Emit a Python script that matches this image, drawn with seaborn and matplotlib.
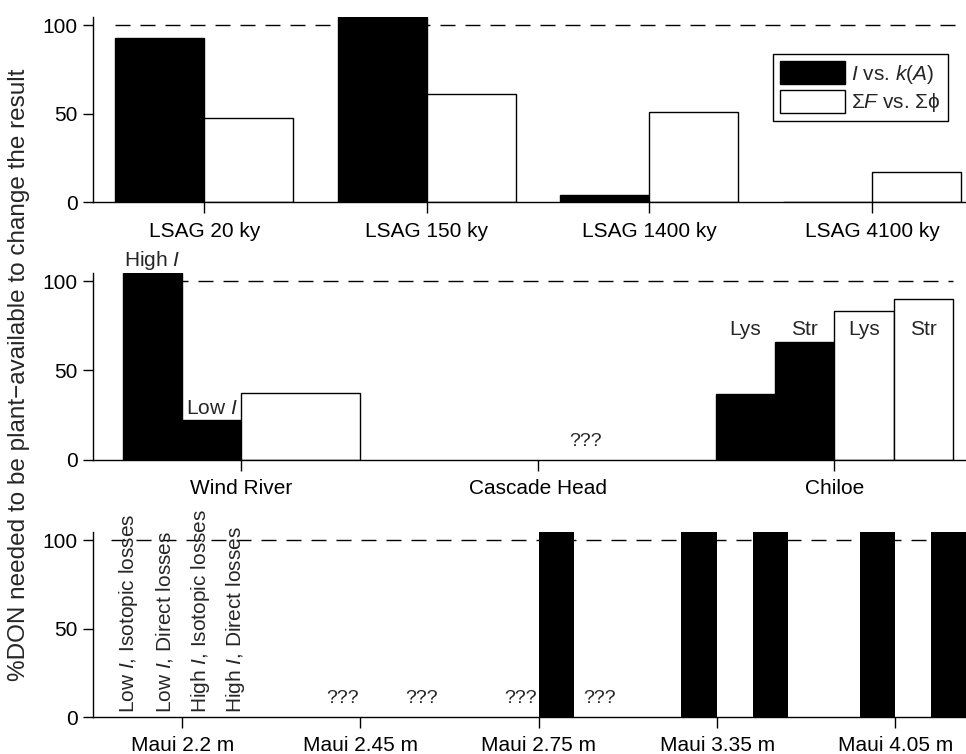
import numpy as np
import pandas as pd
import matplotlib
matplotlib.use("Agg")
import matplotlib.pyplot as plt
from matplotlib.font_manager import FontProperties
import seaborn as sns

sns.set_style("ticks")
plt.rcParams["font.family"] = ["Liberation Sans", "DejaVu Sans"]
plt.rcParams["mathtext.fontset"] = "custom"
plt.rcParams["mathtext.rm"] = "Liberation Sans"
plt.rcParams["mathtext.it"] = "Liberation Sans:italic"
plt.rcParams["axes.unicode_minus"] = True

# --- data (values above the axis top are clipped) ---
lsag_sites = ["LSAG 20 ky", "LSAG 150 ky", "LSAG 1400 ky", "LSAG 4100 ky"]
lsag_ik = [93, 104.5, 3.8, 0]
lsag_sf = [47.5, 61.3, 50.9, 17]
methods = [r"$\mathit{I}$ vs. $\mathit{k(A)}$", r"Σ$\mathit{F}$ vs. Σϕ"]

mid_sites = ["Wind River", "Cascade Head", "Chiloe"]
# black series split in two sub bars (High/Low I at Wind River, Lys/Str at Chiloe)
mid_slots = ["k1", "k2", "w1", "w2"]
mid_site_col = ["Wind River", "Wind River", "Chiloe", "Chiloe", "Chiloe", "Chiloe"]
mid_slot_col = ["k1", "k2", "k1", "k2", "w1", "w2"]
mid_vals = [104.5, 22.4, 36.6, 66, 83.3, 89.7]
mid_sub_labels = [r"High $\mathit{I}$", r"Low $\mathit{I}$", "Lys", "Str", "Lys", "Str"]
wind_white = 37.4

maui_sites = ["Maui 2.2 m", "Maui 2.45 m", "Maui 2.75 m", "Maui 3.35 m", "Maui 4.05 m"]
scenarios = [r"Low $\mathit{I}$, Isotopic losses", r"Low $\mathit{I}$, Direct losses",
             r"High $\mathit{I}$, Isotopic losses", r"High $\mathit{I}$, Direct losses"]
# nan = unknown (???)
maui_vals = [
    [0, 0, 0, 0],
    [0, np.nan, 0, np.nan],
    [0, np.nan, 104.5, np.nan],
    [0, 104.5, 0, 104.5],
    [0, 104.5, 0, 104.5],
]

FS = 15
YTOP = 104.5
dash = (0, (10.8, 7.2))

fig = plt.figure(figsize=(9.66, 7.54), dpi=100)
ax1 = fig.add_axes([0.0963, 0.732, 0.91, 0.245])
ax2 = fig.add_axes([0.0963, 0.390, 0.91, 0.248])
ax3 = fig.add_axes([0.0963, 0.049, 0.91, 0.245])


def style(ax, n, xmax):
    ax.set_xlim(-0.5, xmax)
    ax.set_ylim(0, YTOP)
    ax.set_yticks([0, 50, 100])
    ax.set_xlabel("")
    ax.set_ylabel("")
    sns.despine(ax=ax)
    ax.tick_params(axis="both", labelsize=FS, colors="black", width=1, length=7, pad=4)
    ax.tick_params(axis="x", length=8, pad=6)
    for s in ["left", "bottom"]:
        ax.spines[s].set_color("black")
        ax.spines[s].set_linewidth(1)
    ax.hlines(100, -0.4, n - 1 + 0.4, colors="black", linewidth=1, linestyles=dash, zorder=0)


# top panel
top = pd.DataFrame({
    "site": lsag_sites * 2,
    "method": [methods[0]] * 4 + [methods[1]] * 4,
    "value": lsag_ik + lsag_sf,
})
sns.barplot(data=top, x="site", y="value", hue="method", order=lsag_sites, hue_order=methods,
            palette=["black", "white"], edgecolor="black", linewidth=1, width=0.8,
            saturation=1, legend=False, ax=ax1, zorder=2)
style(ax1, len(lsag_sites), 3.45)
leg = ax1.legend(handles=list(ax1.containers[:2]), labels=methods, loc="upper right",
                 bbox_to_anchor=(948 / 966, 1 - 54 / 754), bbox_transform=fig.transFigure,
                 borderaxespad=0, fancybox=False, framealpha=1, edgecolor="black",
                 handlelength=3.1, handleheight=1.3, handletextpad=0.3, borderpad=0.35,
                 labelspacing=0.2,
                 prop=FontProperties(family=["Liberation Sans", "DejaVu Sans"], size=15))
leg.get_frame().set_linewidth(1)

# middle panel
mid = pd.DataFrame({"site": mid_site_col, "slot": mid_slot_col, "value": mid_vals})
sns.barplot(data=mid, x="site", y="value", hue="slot", order=mid_sites, hue_order=mid_slots,
            palette=["black", "black", "white", "white"], edgecolor="black", linewidth=1,
            width=0.8, saturation=1, dodge=True, legend=False, ax=ax2, zorder=2)
wr = pd.DataFrame({"site": ["Wind River"], "method": [methods[1]], "value": [wind_white]})
sns.barplot(data=wr, x="site", y="value", hue="method", order=mid_sites, hue_order=methods,
            palette=["black", "white"], edgecolor="black", linewidth=1, width=0.8,
            saturation=1, dodge=True, legend=False, ax=ax2, zorder=2)
style(ax2, len(mid_sites), 2.465)
for site, slot, v, lab in zip(mid_site_col, mid_slot_col, mid_vals, mid_sub_labels):
    x = mid_sites.index(site) + (mid_slots.index(slot) - 1.5) * 0.2
    if site == "Wind River":
        y = v + 0.8
    else:
        y = 67.5
    ax2.text(x, y, lab, ha="center", va="bottom", fontsize=FS, clip_on=False)
ax2.text(mid_sites.index("Cascade Head") + 0.16, 5.5, "???", ha="center", va="bottom", fontsize=14)

# bottom panel
rows = []
for site, vals in zip(maui_sites, maui_vals):
    for sc, v in zip(scenarios, vals):
        rows.append({"site": site, "scenario": sc, "value": v})
bot = pd.DataFrame(rows).dropna()
sns.barplot(data=bot, x="site", y="value", hue="scenario", order=maui_sites, hue_order=scenarios,
            palette=["black"] * 4, linewidth=0, width=0.8, saturation=1, dodge=True,
            legend=False, ax=ax3, zorder=2)
style(ax3, len(maui_sites), 4.43)
for i, site in enumerate(maui_sites):
    for j, v in enumerate(maui_vals[i]):
        x = i + (j - 1.5) * 0.2
        if i == 0:
            ax3.text(x, 2.5, scenarios[j], rotation=90, ha="center", va="bottom", fontsize=FS)
        elif np.isnan(v):
            nudge = 0.04 if j == 3 else 0
            ax3.text(x + nudge, 5.5, "???", ha="center", va="bottom", fontsize=14)

fig.text(19 / 966, 0.503, "%DON needed to be plant\u2212available to change the result",
         rotation=90, ha="center", va="center", fontsize=17.5)

fig.savefig("out.png", dpi=100)
